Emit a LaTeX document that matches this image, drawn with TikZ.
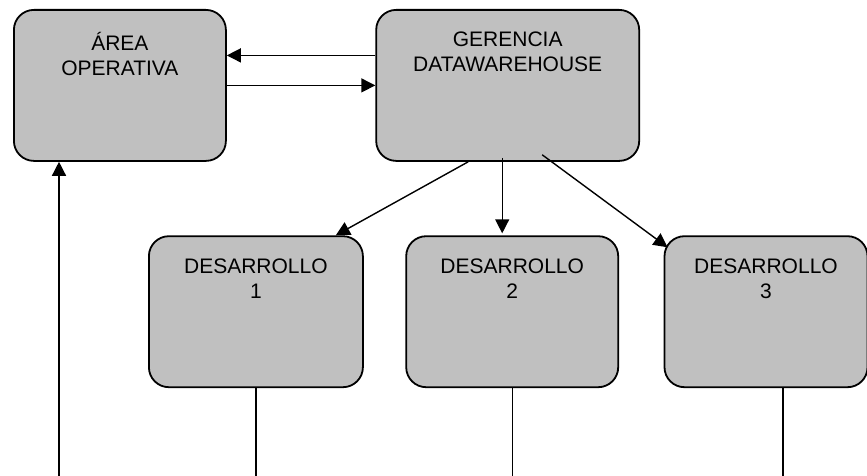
\documentclass[tikz,border=0pt]{standalone}
\usepackage{fontspec}
\setmainfont{Liberation Sans}
\usetikzlibrary{positioning, arrows.meta}
\definecolor{boxgray}{RGB}{192,192,192}

\begin{document}
\begin{tikzpicture}[
        x=1pt, y=1pt,
        every node/.style={font=\fontsize{21}{25}\selectfont},
        box/.style={draw, fill=boxgray, rectangle, rounded corners=20pt, line width=1.8pt, minimum height=151pt, label={[boxtext]above:{#1}}},
        boxtext/.style={anchor=north, yshift=-23pt, align=center, inner sep=0pt, fill=none},
        arr/.style={-{Triangle[length=14pt, width=14pt]}, line width=1.4pt}
    ]
    \useasboundingbox (0,0) rectangle (867,-476);

    \node[box={ÁREA\\OPERATIVA}, minimum width=212pt, anchor=north west] (areaop) at (13,-9) {};
    \node[box={GERENCIA\\DATAWAREHOUSE}, minimum width=263pt, right=148.5pt of areaop] (gerencia) {};

    \node[box={DESARROLLO\\2}, minimum width=212pt, below=73.5pt of gerencia, xshift=4.5pt] (des2) {};
    \node[box={DESARROLLO\\1}, minimum width=214pt, left=41.5pt of des2] (des1) {};
    \node[box={DESARROLLO\\3}, minimum width=203pt, right=44.5pt of des2] (des3) {};

    \coordinate (opin) at (59,-476);
    \coordinate (d1out) at (des1.south |- opin);
    \coordinate (d2out) at (des2.south |- opin);
    \coordinate (d3out) at ([xshift=17pt]des3.south |- opin);
    \coordinate (gdown) at ([xshift=-5.5pt, yshift=4pt]gerencia.south);

    \draw[arr] ([yshift=30pt]gerencia.west) -- ([yshift=30pt]areaop.east);
    \draw[arr] (areaop.east) -- (gerencia.west);
    \draw[arr] (opin) -- (opin |- areaop.south);

    \draw[arr] ([xshift=-39.5pt]gerencia.south) -- ([xshift=-28pt]des1.north east);
    \draw[arr, shorten >=2pt] (gdown) -- (gdown |- des2.north);
    \draw[arr] ([xshift=34.5pt, yshift=7pt]gerencia.south) -- ([shift={(4pt,-12pt)}]des3.north west);

    \draw[line width=1.4pt] (des1.south) -- (d1out);
    \draw[line width=1.4pt] (des2.south) -- (d2out);
    \draw[line width=1.4pt] ([xshift=17pt]des3.south) -- (d3out);

\end{tikzpicture}
\end{document}
